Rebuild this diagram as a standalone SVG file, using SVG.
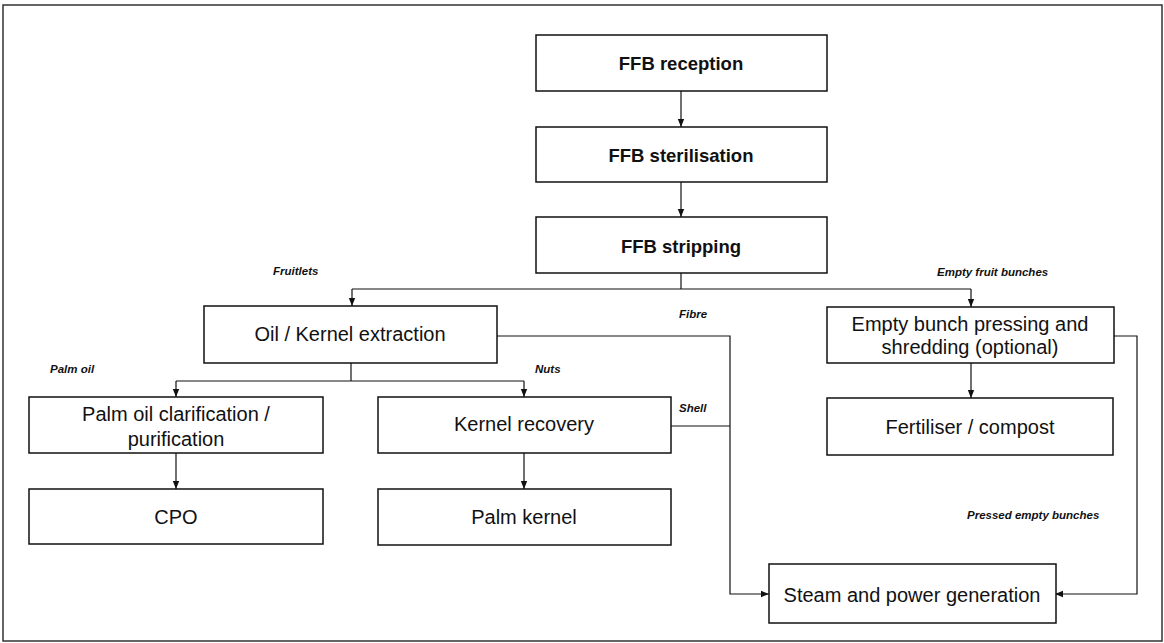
<svg xmlns="http://www.w3.org/2000/svg" width="1164" height="643" viewBox="0 0 1164 643">
<style>
.box{fill:#fff;stroke:#111;stroke-width:1.5}
.t{font-family:"Liberation Sans",Arial,sans-serif;font-size:20px;fill:#111;text-anchor:middle;dominant-baseline:central}
.b{font-weight:bold;font-size:18.5px}
.lbl{font-family:"Liberation Sans",Arial,sans-serif;font-size:11.5px;font-weight:bold;font-style:italic;fill:#111}
.c{fill:none;stroke:#111;stroke-width:1.2}
</style>
<defs>
<marker id="ah" markerUnits="userSpaceOnUse" markerWidth="8" markerHeight="8" viewBox="0 0 8 8" refX="8" refY="4" orient="auto">
<path d="M0,0.8 L8,4 L0,7.2 Z" fill="#111"/>
</marker>
</defs>
<rect x="3" y="5" width="1159" height="636" fill="#fff" stroke="#333" stroke-width="1.5"/>
<g id="connectors">
<path class="c" d="M681,91 V127" marker-end="url(#ah)"/>
<path class="c" d="M681,182 V217" marker-end="url(#ah)"/>
<path class="c" d="M681,273 V289"/>
<path class="c" d="M352,289 H971"/>
<path class="c" d="M352,289 V306" marker-end="url(#ah)"/>
<path class="c" d="M971,289 V307" marker-end="url(#ah)"/>
<path class="c" d="M351,363 V381"/>
<path class="c" d="M176,381 H524"/>
<path class="c" d="M176,381 V397" marker-end="url(#ah)"/>
<path class="c" d="M524,381 V397" marker-end="url(#ah)"/>
<path class="c" d="M176,453 V489" marker-end="url(#ah)"/>
<path class="c" d="M524,453 V489" marker-end="url(#ah)"/>
<path class="c" d="M971,363 V398" marker-end="url(#ah)"/>
<path class="c" d="M497,336 H730 V594 H769" marker-end="url(#ah)"/>
<path class="c" d="M671,426 H730"/>
<path class="c" d="M1114,336 H1137 V594 H1055" marker-end="url(#ah)"/>
</g>
<g id="n-reception"><rect class="box" x="536" y="35" width="291" height="56"/><text class="t b" x="681" y="63">FFB reception</text></g>
<g id="n-sterilisation"><rect class="box" x="536" y="127" width="291" height="55"/><text class="t b" x="681" y="155">FFB sterilisation</text></g>
<g id="n-stripping"><rect class="box" x="536" y="217" width="291" height="56"/><text class="t b" x="681" y="246">FFB stripping</text></g>
<g id="n-extraction"><rect class="box" x="204" y="306" width="293" height="57"/><text class="t" x="350" y="334">Oil / Kernel extraction</text></g>
<g id="n-pressing"><rect class="box" x="827" y="307" width="287" height="56"/><text class="t" x="970" y="324">Empty bunch pressing and</text><text class="t" x="970" y="347">shredding (optional)</text></g>
<g id="n-clarification"><rect class="box" x="29" y="397" width="294" height="56"/><text class="t" x="176" y="414">Palm oil clarification /</text><text class="t" x="176" y="439">purification</text></g>
<g id="n-kernelrecovery"><rect class="box" x="378" y="397" width="293" height="56"/><text class="t" x="524" y="424">Kernel recovery</text></g>
<g id="n-fertiliser"><rect class="box" x="827" y="398" width="286" height="57"/><text class="t" x="970" y="427">Fertiliser / compost</text></g>
<g id="n-cpo"><rect class="box" x="29" y="489" width="294" height="55"/><text class="t" x="176" y="517">CPO</text></g>
<g id="n-palmkernel"><rect class="box" x="378" y="489" width="293" height="56"/><text class="t" x="524" y="517">Palm kernel</text></g>
<g id="n-steam"><rect class="box" x="769" y="564" width="287" height="59"/><text class="t" x="912" y="595">Steam and power generation</text></g>
<g id="labels">
<text class="lbl" x="273" y="275">Fruitlets</text>
<text class="lbl" x="937" y="276">Empty fruit bunches</text>
<text class="lbl" x="679" y="318">Fibre</text>
<text class="lbl" x="50" y="373">Palm oil</text>
<text class="lbl" x="535" y="373">Nuts</text>
<text class="lbl" x="679" y="412">Shell</text>
<text class="lbl" x="967" y="519">Pressed empty bunches</text>
</g>
</svg>
